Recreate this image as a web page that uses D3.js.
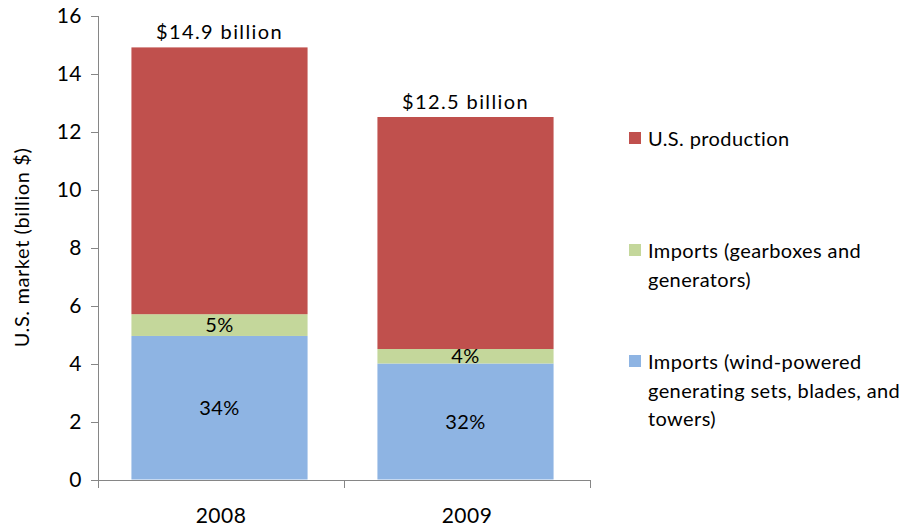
<html>
  <head>
    <script src="https://d3js.org/d3.v7.min.js"></script>
    <style>
      body { margin: 0; background: #fff; }
      text { font-family: Lato, "Open Sans", sans-serif; fill: #000; }
      .axis path, .axis line { stroke: #868686; shape-rendering: crispEdges; }
    </style>
  </head>
  <body>
    <div id="chart"></div>
    <script>
      // chart data
      var years = ["2008", "2009"];
      var seriesNames = ["Imports (wind-powered generating sets, blades, and towers)",
                         "Imports (gearboxes and generators)",
                         "U.S. production"];
      var importsSets = [4.95, 4.0];
      var importsGear = [0.75, 0.5];
      var usProduction = [9.2, 8.0];
      var totalLabels = ["$14.9 billion", "$12.5 billion"];
      var setsPct = ["34%", "32%"];
      var gearPct = ["5%", "4%"];
      var yTicks = [0, 2, 4, 6, 8, 10, 12, 14, 16];
      var legendLines = [
        ["U.S. production"],
        ["Imports (gearboxes and", "generators)"],
        ["Imports (wind-powered", "generating sets, blades, and", "towers)"]
      ];
      var colors = ["#8eb4e3", "#c4d79b", "#c0504d"];

      var svg = d3.select("#chart").append("svg")
        .attr("width", 917)
        .attr("height", 529);

      var x = d3.scaleBand().domain(years).range([98, 590]);
      var y = d3.scaleLinear().domain([0, 16]).range([479.5, 15.5]);
      var barW = x.bandwidth() * 0.716;

      var rows = years.map(function(yr, i) {
        return { year: yr, sets: importsSets[i], gear: importsGear[i], us: usProduction[i] };
      });
      var stack = d3.stack().keys(["sets", "gear", "us"]);
      var layers = stack(rows);

      // bars
      svg.append("g").selectAll("g")
        .data(layers)
        .join("g")
        .attr("fill", function(d, i) { return colors[i]; })
        .selectAll("rect")
        .data(function(d) { return d; })
        .join("rect")
        .attr("x", function(d) { return x(d.data.year) + (x.bandwidth() - barW) / 2 - 1.5; })
        .attr("width", barW)
        .attr("y", function(d) { return y(d[1]); })
        .attr("height", function(d) { return y(d[0]) - y(d[1]); });

      // y axis
      svg.append("g")
        .attr("class", "axis")
        .attr("transform", "translate(98,0)")
        .call(d3.axisLeft(y).tickValues(yTicks).tickSize(7).tickPadding(9))
        .call(function(g) {
          g.selectAll("text").style("font-size", "21px").style("letter-spacing", "0.5px").attr("fill", "#000");
        });

      // x axis
      var xAxis = svg.append("g")
        .attr("class", "axis")
        .attr("transform", "translate(0," + y(0) + ")")
        .call(d3.axisBottom(x).tickSize(0).tickPadding(29).tickSizeOuter(0));
      xAxis.selectAll("text").style("font-size", "21px").style("letter-spacing", "0.5px").attr("fill", "#000");
      // category separators
      xAxis.selectAll(".sep")
        .data([98, x("2009"), 590])
        .join("line")
        .attr("class", "sep")
        .attr("x1", function(d) { return d; })
        .attr("x2", function(d) { return d; })
        .attr("y1", 0)
        .attr("y2", 8);

      // y axis title
      svg.append("text")
        .attr("transform", "translate(29," + y(8) + ") rotate(-90)")
        .attr("text-anchor", "middle")
        .style("font-size", "20px")
        .style("letter-spacing", "0.6px")
        .text("U.S. market (billion $)");

      // total labels
      svg.append("g").selectAll("text")
        .data(rows)
        .join("text")
        .attr("x", function(d) { return x(d.year) + x.bandwidth() / 2 - 1.5; })
        .attr("y", function(d) { return y(d.sets + d.gear + d.us) - 8; })
        .attr("text-anchor", "middle")
        .style("font-size", "20px")
        .style("letter-spacing", "1.4px")
        .text(function(d, i) { return totalLabels[i]; });

      // percent labels
      svg.append("g").selectAll("text")
        .data(rows)
        .join("text")
        .attr("x", function(d) { return x(d.year) + x.bandwidth() / 2 - 1.5; })
        .attr("y", function(d) { return y(d.sets / 2); })
        .attr("dy", "0.35em")
        .attr("text-anchor", "middle")
        .style("font-size", "20px")
        .style("letter-spacing", "0.5px")
        .text(function(d, i) { return setsPct[i]; });

      svg.append("g").selectAll("text")
        .data(rows)
        .join("text")
        .attr("x", function(d) { return x(d.year) + x.bandwidth() / 2 - 1.5; })
        .attr("y", function(d) { return y(d.sets + d.gear / 2); })
        .attr("dy", "0.35em")
        .attr("text-anchor", "middle")
        .style("font-size", "20px")
        .style("letter-spacing", "0.5px")
        .text(function(d, i) { return gearPct[i]; });

      // legend
      var legendTop = [132, 244, 355];
      var legendColors = [colors[2], colors[1], colors[0]];
      var legend = svg.append("g").selectAll("g")
        .data(legendLines)
        .join("g")
        .attr("transform", function(d, i) { return "translate(629," + legendTop[i] + ")"; });
      legend.append("rect")
        .attr("width", 12)
        .attr("height", 12)
        .attr("fill", function(d, i) { return legendColors[i]; });
      legend.append("text")
        .style("font-size", "20px")
        .style("letter-spacing", "0.4px")
        .selectAll("tspan")
        .data(function(d) { return d; })
        .join("tspan")
        .attr("x", 19)
        .attr("y", function(d, i) { return 14 + i * 28.5; })
        .text(function(d) { return d; });
    </script>
  </body>
</html>
